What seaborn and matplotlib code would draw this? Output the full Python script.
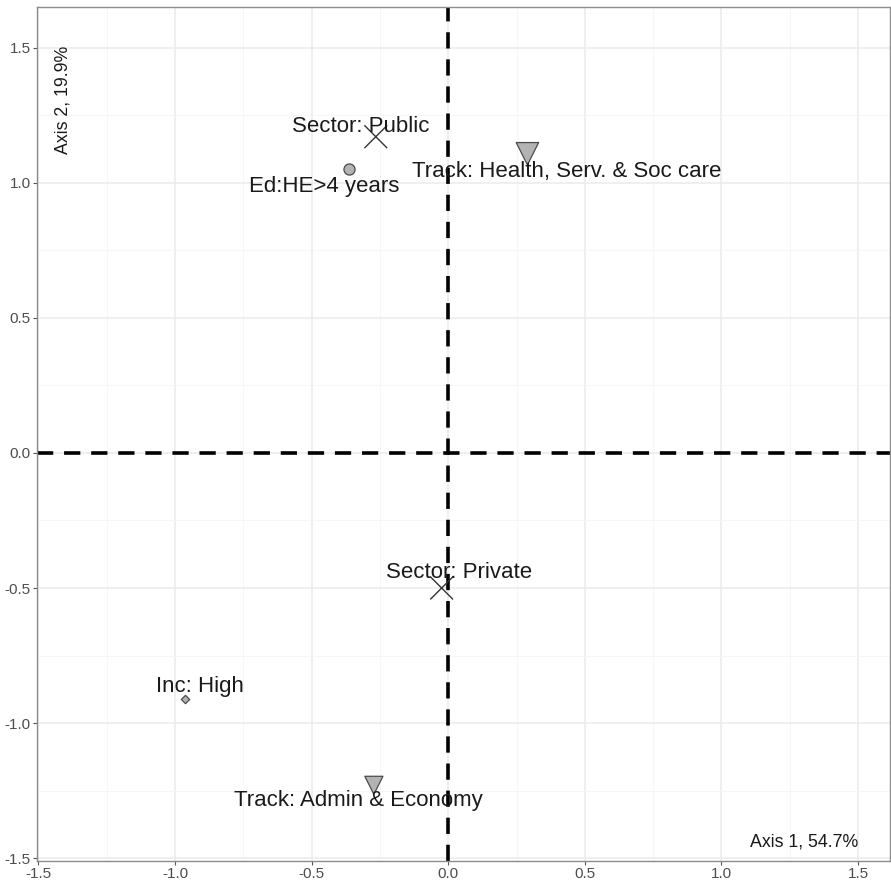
import matplotlib
matplotlib.use("Agg")
import matplotlib.pyplot as plt
from matplotlib.ticker import MultipleLocator, FormatStrFormatter
import pandas as pd
import seaborn as sns

# Category coordinates on the first two axes
labels = ["Sector: Public", "Ed:HE>4 years", "Track: Health, Serv. & Soc care",
          "Sector: Private", "Inc: High", "Track: Admin & Economy"]
dim1 = [-0.265, -0.364, 0.290, -0.024, -0.963, -0.272]
dim2 = [1.170, 1.052, 1.107, -0.500, -0.911, -1.230]
shapes = ["cross", "circle", "triangle", "cross", "diamond", "triangle"]
weights = [270, 64, 260, 270, 18, 170]

# Repelled label anchors
label_x = [-0.320, -0.455, 0.433, 0.038, -0.908, -0.330]
label_y = [1.207, 0.986, 1.041, -0.444, -0.863, -1.285]

axis1_title = "Axis 1, 54.7%"
axis2_title = "Axis 2, 19.9%"

df = pd.DataFrame({"label": labels, "dim1": dim1, "dim2": dim2,
                   "shape": shapes, "w": weights})

sns.set_theme(style="whitegrid")
plt.rcParams["font.family"] = ["Liberation Sans", "DejaVu Sans"]

fig = plt.figure(figsize=(8.91, 8.85), dpi=100)
ax = fig.add_axes([37 / 891, 24 / 885, 853 / 891, 854 / 885])

fill = "#b3b3b3"
edge = "#4a4a4a"
marker_map = {"circle": "o", "triangle": "v", "diamond": "D"}

for shp, grp in df.groupby("shape"):
    if shp == "cross":
        sns.scatterplot(data=grp, x="dim1", y="dim2", marker="x", s=grp["w"].values,
                        color="#333333", linewidth=1.0, ax=ax, legend=False, zorder=3)
    else:
        sns.scatterplot(data=grp, x="dim1", y="dim2", marker=marker_map[shp],
                        s=grp["w"].values, color=fill, edgecolor=edge, linewidth=0.9,
                        ax=ax, legend=False, zorder=3)

ax.axvline(0, color="black", linestyle=(0, (4.5, 3)), linewidth=2.6, zorder=2)
ax.axhline(0, color="black", linestyle=(0, (4.5, 3)), linewidth=2.6, zorder=2)

for lab, lx, ly in zip(labels, label_x, label_y):
    ax.text(lx, ly, lab, ha="center", va="center", fontsize=16,
            color="#1a1a1a", zorder=4)

ax.set_xlim(-1.505, 1.617)
ax.set_ylim(-1.51, 1.65)
ax.xaxis.set_major_locator(MultipleLocator(0.5))
ax.yaxis.set_major_locator(MultipleLocator(0.5))
ax.xaxis.set_minor_locator(MultipleLocator(0.25))
ax.yaxis.set_minor_locator(MultipleLocator(0.25))
ax.xaxis.set_major_formatter(FormatStrFormatter("%.1f"))
ax.yaxis.set_major_formatter(FormatStrFormatter("%.1f"))

ax.grid(which="major", color="#ebebeb", linewidth=1.1)
ax.grid(which="minor", color="#f5f5f5", linewidth=0.6)
ax.set_axisbelow(True)
for sp in ax.spines.values():
    sp.set_color("#8c8c8c")
    sp.set_linewidth(1.0)

ax.tick_params(axis="both", which="major", length=3, width=0.8, color="#555555",
               labelsize=11, labelcolor="#4d4d4d", pad=1.5, bottom=True, left=True)
ax.tick_params(axis="both", which="minor", length=0)
ax.set_xlabel("")
ax.set_ylabel("")

ax.text(0.030, 0.955, axis2_title, transform=ax.transAxes, rotation=90,
        ha="center", va="top", fontsize=12.8, color="#1a1a1a")
ax.text(0.963, 0.012, axis1_title, transform=ax.transAxes,
        ha="right", va="bottom", fontsize=12.8, color="#1a1a1a")

fig.savefig("out.png", dpi=100)
